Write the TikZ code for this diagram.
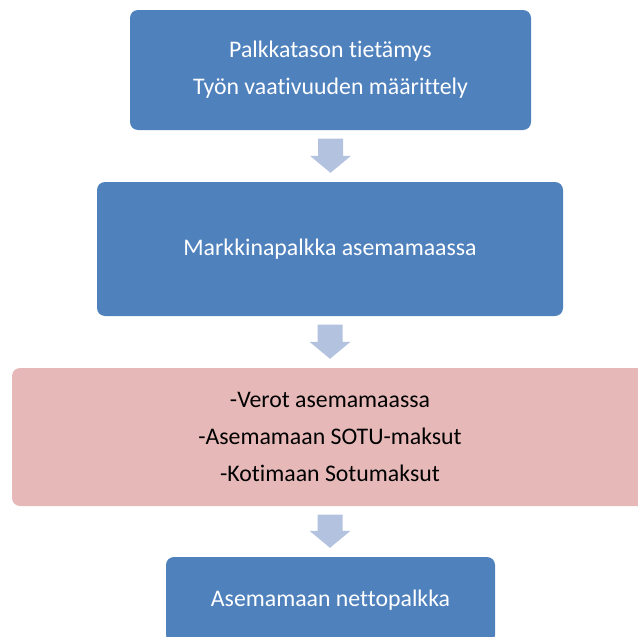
\documentclass[tikz,border=0pt]{standalone}
\usepackage{fontspec}
\setmainfont{Carlito}[Ligatures=NoCommon]
\usetikzlibrary{calc}
\definecolor{stepblue}{HTML}{4F81BD}
\definecolor{steppink}{HTML}{E6B9B8}
\definecolor{arrowblue}{HTML}{B3C2DE}
% block arrow from the lower edge of one box to the upper edge of the next
\newcommand{\flowarrow}[2]{%
  \fill[flowfill] let \p1=($(#1.south)+(0pt,-8.5pt)$), \p2=($(#2.north)+(0pt,9pt)$) in
    (\x1-12.5pt,\y1) -- (\x1+12.5pt,\y1) -- (\x1+12.5pt,\y2+17pt) -- (\x1+20.5pt,\y2+17pt)
    -- (\x1,\y2) -- (\x1-20.5pt,\y2+17pt) -- (\x1-12.5pt,\y2+17pt) -- cycle;}
\begin{document}
\begin{tikzpicture}[x=1pt,y=-1pt,
  box/.style={rectangle, rounded corners=8pt, align=center, inner sep=0pt,
    font=\fontsize{23.8}{37}\selectfont},
  bluebox/.style={box, fill=stepblue, text=white},
  pinkbox/.style={box, fill=steppink, text=black},
  flowfill/.style={fill=arrowblue}]
\useasboundingbox (0,0) rectangle (638,637);
\clip (0,0) rectangle (638,637);
\node[bluebox, minimum width=401pt, minimum height=120pt] (b1) at (330.5,70)
  {Palkkatason tietämys\\Työn vaativuuden määrittely};
\node[bluebox, minimum width=466pt, minimum height=134pt] (b2) at (330,249)
  {Markkinapalkka asemamaassa};
\node[pinkbox, minimum width=636pt, minimum height=138pt] (b3) at (330,437)
  {-Verot asemamaassa\\-Asemamaan SOTU-maksut\\-Kotimaan Sotumaksut};
\node[bluebox, minimum width=329pt, minimum height=86pt] (b4) at (330.5,600)
  {Asemamaan nettopalkka};
\flowarrow{b1}{b2}
\flowarrow{b2}{b3}
\flowarrow{b3}{b4}
\end{tikzpicture}
\end{document}
